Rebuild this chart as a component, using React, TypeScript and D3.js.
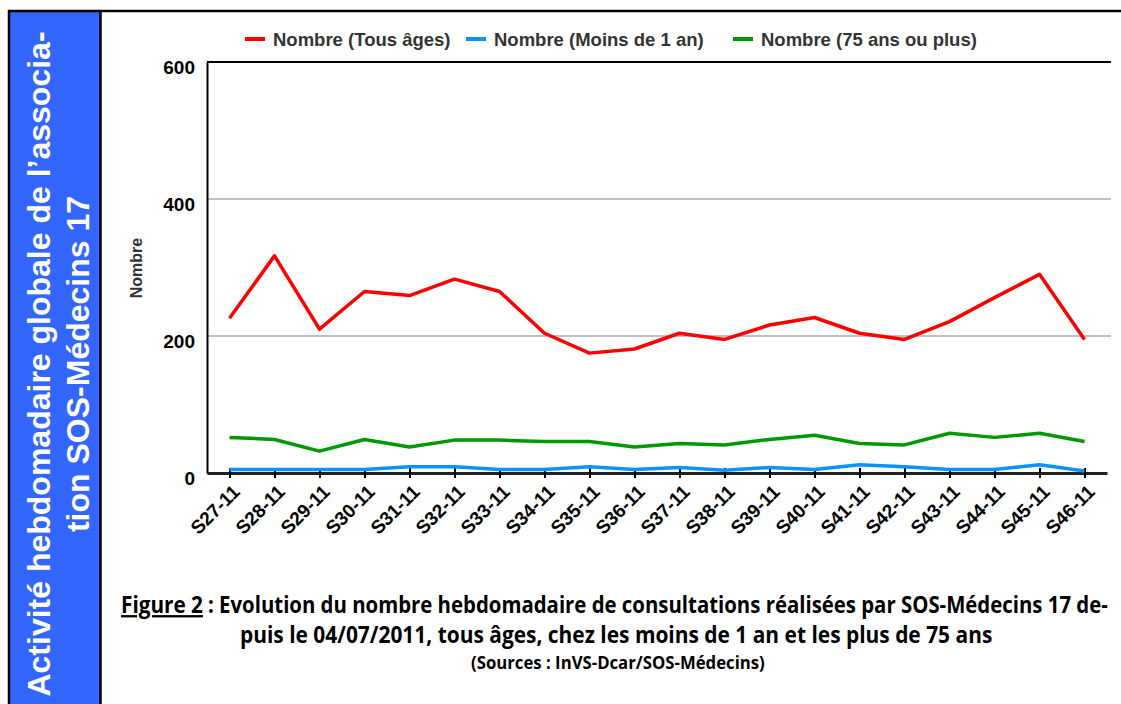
import React, { useEffect, useRef } from 'react'
import * as d3 from 'd3'

// weekly SOS-Médecins 17 consultations
const weeks = [
  'S27-11', 'S28-11', 'S29-11', 'S30-11', 'S31-11', 'S32-11', 'S33-11',
  'S34-11', 'S35-11', 'S36-11', 'S37-11', 'S38-11', 'S39-11', 'S40-11',
  'S41-11', 'S42-11', 'S43-11', 'S44-11', 'S45-11', 'S46-11',
]
const tousAges = [226, 317, 210, 265, 259, 283, 265, 204, 175, 181, 204, 195, 216, 227, 204, 195, 221, 256, 290, 195]
const moins1An = [5, 5, 5, 5, 9, 9, 5, 5, 9, 5, 8, 4, 8, 5, 12, 9, 5, 5, 12, 3]
const plus75 = [52, 49, 32, 49, 38, 48, 48, 46, 46, 38, 43, 41, 49, 55, 43, 41, 58, 52, 58, 46]
const yTicks = [0, 200, 400, 600]

const seriesNames = ['Nombre (Tous âges)', 'Nombre (Moins de 1 an)', 'Nombre (75 ans ou plus)']
const seriesColors = ['#ff0000', '#0a93ff', '#009a00']

const FONT = "'Liberation Sans', Arial, sans-serif"

const App = () => {
  const ref = useRef<SVGSVGElement>(null)

  useEffect(() => {
    draw()
  }, [])

  // squeeze a text horizontally so it spans the given width (condensed caption font)
  const fitText = (sel, x0, y0, w) => {
    const natural = sel.node().getComputedTextLength()
    sel.attr('transform', `translate(${x0},${y0}) scale(${w / natural},1)`)
  }

  const draw = () => {
    const svg = d3.select(ref.current)
    svg.selectAll('*').remove()

    const width = 1121
    const height = 704
    const plot = { left: 207, right: 1111, top: 62, bottom: 473 }

    svg.append('rect').attr('width', width).attr('height', height).attr('fill', '#fff')

    // sidebar
    svg.append('rect')
      .attr('x', 10).attr('y', 12).attr('width', 90).attr('height', height - 12)
      .attr('fill', '#3366ff')
    svg.append('line').attr('x1', 8).attr('x2', width).attr('y1', 11).attr('y2', 11)
      .attr('stroke', '#000').attr('stroke-width', 2.5)
    svg.append('line').attr('x1', 9).attr('x2', 9).attr('y1', 10).attr('y2', height)
      .attr('stroke', '#000').attr('stroke-width', 2.5)
    svg.append('line').attr('x1', 100.5).attr('x2', 100.5).attr('y1', 10).attr('y2', height)
      .attr('stroke', '#000').attr('stroke-width', 2.5)

    const side = svg.append('g')
      .attr('font-family', FONT).attr('font-weight', 'bold').attr('font-size', 32)
      .attr('fill', '#fff').attr('text-anchor', 'middle')
    side.append('text')
      .attr('transform', 'translate(50,364) rotate(-90)')
      .text('Activité hebdomadaire globale de l’associa-')
    side.append('text')
      .attr('transform', 'translate(89,364) rotate(-90)')
      .text('tion SOS-Médecins 17')

    const x = d3.scalePoint()
      .domain(weeks)
      .range([plot.left, plot.right - 4])
      .padding(0.5)

    const y = d3.scaleLinear()
      .domain([0, 600])
      .range([plot.bottom, plot.top])

    // grid lines
    svg.append('g')
      .selectAll('line')
      .data(yTicks.filter((d) => d > 0 && d < 600))
      .join('line')
      .attr('x1', plot.left).attr('x2', plot.right)
      .attr('y1', (d) => y(d)).attr('y2', (d) => y(d))
      .attr('stroke', '#c0c0c0').attr('stroke-width', 2)

    svg.append('line')
      .attr('x1', plot.left).attr('x2', plot.right)
      .attr('y1', y(600)).attr('y2', y(600))
      .attr('stroke', '#000').attr('stroke-width', 2)

    // y axis
    const yAxis = svg.append('g')
      .attr('transform', `translate(${plot.left},0)`)
      .call(d3.axisLeft(y).tickValues(yTicks).tickSize(0).tickPadding(12))
    yAxis.select('.domain').attr('stroke', '#000').attr('stroke-width', 2)
    yAxis.selectAll('text')
      .attr('font-family', FONT).attr('font-weight', 'bold').attr('font-size', 19)
      .attr('fill', '#000').attr('dy', '0.62em')

    svg.append('text')
      .attr('transform', 'translate(142,268) rotate(-90)')
      .attr('text-anchor', 'middle')
      .attr('font-family', FONT).attr('font-weight', 'bold').attr('font-size', 16)
      .attr('fill', '#333')
      .text('Nombre')

    // x axis
    const xAxis = svg.append('g')
      .attr('transform', `translate(0,${plot.bottom})`)
      .call(d3.axisBottom(x).tickSize(5).tickSizeOuter(0))
    xAxis.select('.domain').attr('stroke', '#222').attr('stroke-width', 3)
    xAxis.selectAll('.tick line').attr('y1', -5).attr('stroke', '#000').attr('stroke-width', 2)
    xAxis.selectAll('text')
      .attr('font-family', FONT).attr('font-weight', 'bold').attr('font-size', 19)
      .attr('fill', '#000').attr('text-anchor', 'end')
      .attr('x', 0).attr('y', 0).attr('dy', 0)
      .attr('transform', 'translate(11,20) rotate(-45)')

    // lines
    const seriesData = [tousAges, moins1An, plus75]
    const line = d3.line<number>()
      .x((_, i) => x(weeks[i]) as number)
      .y((d) => y(d))

    const order = [1, 2, 0]
    order.forEach((k) => {
      svg.append('path')
        .datum(seriesData[k])
        .attr('fill', 'none')
        .attr('stroke', seriesColors[k])
        .attr('stroke-width', 3.5)
        .attr('stroke-linejoin', 'round')
        .attr('d', line)
    })

    // legend
    const legendX = [245, 466, 733]
    const legend = svg.append('g')
      .attr('font-family', FONT).attr('font-weight', 'bold').attr('font-size', 18.5)
    seriesNames.forEach((name, i) => {
      legend.append('line')
        .attr('x1', legendX[i]).attr('x2', legendX[i] + 20)
        .attr('y1', 39).attr('y2', 39)
        .attr('stroke', seriesColors[i]).attr('stroke-width', 4)
      legend.append('text')
        .attr('x', legendX[i] + 28).attr('y', 46)
        .attr('fill', '#333')
        .text(name)
    })

    // caption
    const cap = svg.append('g')
      .attr('font-family', "'Open Sans', sans-serif").attr('font-weight', 'bold')
      .attr('fill', '#000')
    const fig = cap.append('text')
      .attr('font-size', 23)
      .attr('text-decoration', 'underline')
      .text('Figure 2')
    fitText(fig, 121, 613, 82)
    const l1 = cap.append('text')
      .attr('font-size', 23)
      .text(': Evolution du nombre hebdomadaire de consultations réalisées par SOS-Médecins 17 de-')
    fitText(l1, 208, 613, 900)
    const l2 = cap.append('text')
      .attr('font-size', 23)
      .text('puis le 04/07/2011, tous âges, chez les moins de 1 an et les plus de 75 ans')
    fitText(l2, 240, 643, 753)
    const l3 = cap.append('text')
      .attr('font-size', 17)
      .text('(Sources : InVS-Dcar/SOS-Médecins)')
    fitText(l3, 471, 669, 294)
  }

  return (
    <svg
      ref={ref}
      width={1121}
      height={704}
      style={{ position: 'absolute', left: 0, top: 0 }}
    />
  )
}

export default App
